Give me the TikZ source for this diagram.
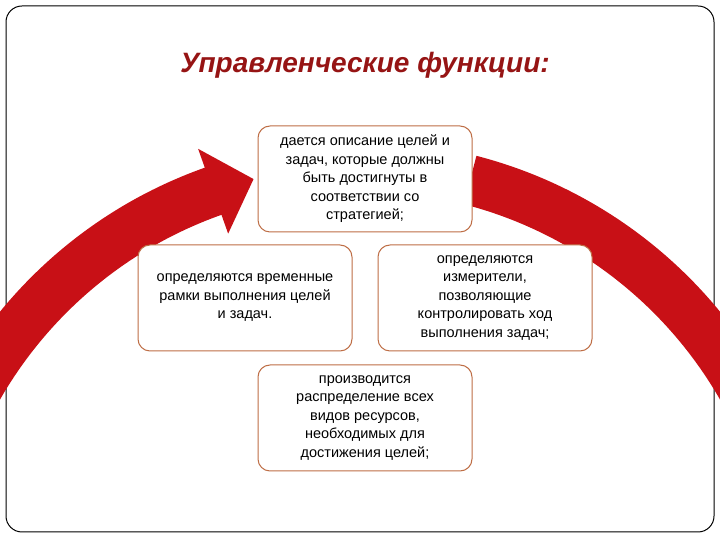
\documentclass[tikz,border=0pt]{standalone}
\usepackage{fontspec}
\setmainfont{Liberation Sans}
\usetikzlibrary{calc}
\definecolor{arrred}{RGB}{200,16,22}
\definecolor{boxbrd}{RGB}{190,110,70}
\definecolor{ttl}{RGB}{150,20,20}
\begin{document}
\begin{tikzpicture}[x=1pt,y=1pt,
  box/.style={draw=boxbrd,line width=1pt,rounded corners=12pt,fill=white,minimum width=214pt,minimum height=106pt,align=center,font=\fontsize{14.5}{18.5}\selectfont,inner sep=2pt}]
\useasboundingbox (0,0) rectangle (720,540);
\fill[white] (0,0) rectangle (720,540);
\node[draw=black,line width=1pt,rounded corners=16pt,minimum width=708pt,minimum height=526pt] (frame) at (360,271) {};
\begin{scope}
\clip (0,0) rectangle (720,540);
\coordinate (C) at (360,-66);
\fill[arrred] ($(C)+(165:465)$) arc[start angle=165,end angle=109.5,radius=465]
  -- ($(C)+(109.5:485)$) -- ($(C)+(104:440)$) -- ($(C)+(109.5:395)$)
  -- ($(C)+(109.5:415)$) arc[start angle=109.5,end angle=165,radius=415] -- cycle;
\fill[arrred] ($(C)+(75.5:465)$) arc[start angle=75.5,end angle=15,radius=465]
  -- ($(C)+(15:415)$) arc[start angle=15,end angle=75.5,radius=415] -- cycle;
\end{scope}
\node[font=\fontsize{28}{32}\selectfont\bfseries\itshape,text=ttl] (title) at (365,475) {Управленческие функции:};
\node[box] (top) at (365,361) {дается описание целей и\\задач, которые должны\\быть достигнуты в\\соответствии со\\стратегией;};
\node[box] (left) at (245,242) {определяются временные\\рамки выполнения целей\\и задач.};
\node[box] (right) at (485,242) {определяются\\измерители,\\позволяющие\\контролировать ход\\выполнения задач;};
\node[box] (bot) at (365,122) {производится\\распределение всех\\видов ресурсов,\\необходимых для\\достижения целей;};
\end{tikzpicture}
\end{document}
